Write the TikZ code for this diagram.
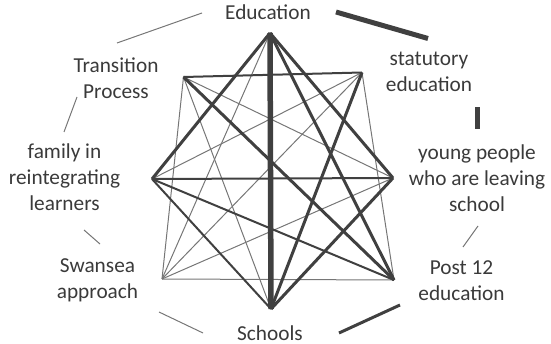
\documentclass[tikz,border=0pt]{standalone}
\usepackage{fontspec}
\setmainfont{Carlito}
\usepackage{tikz}
\usetikzlibrary{positioning}
\definecolor{linkdark}{HTML}{404040}
\definecolor{linklight}{HTML}{767676}
\definecolor{labeltext}{HTML}{3A3A3A}
\tikzset{%
  every edge/.style={
    draw,
    line cap=butt},
  wt1/.style={draw=linklight, line width=1pt},
  wt2/.style={draw=linkdark, line width=2pt},
  wt3/.style={draw=linkdark, line width=3pt},
  wt5/.style={draw=linkdark, line width=5pt},
  topic/.style={
    text=labeltext,
    inner sep=0pt,
    align=center,
    font=\fontsize{21.3}{25.8}\selectfont}
}

\begin{document}
\begin{tikzpicture}[x=1pt, y=-1pt]
    \useasboundingbox (0,0) rectangle (551,344);

    % labels round the circle
    \node[topic, anchor=base] (Ledu) at (268,19.5) {Education};
    \node[topic] (Lstat) at (429,72) {statutory\\education};
    \node[topic] (Lyoung) at (477,178) {young people\\who are leaving\\school};
    \node[topic] (Lpost) at (461.5,281) {Post 12\\education};
    \node[topic, anchor=base] (Lschools) at (270,340) {Schools};
    \node[topic] (Lswansea) at (97.5,280.5) {Swansea\\approach};
    \node[topic] (Lfamily) at (64.5,177) {family in\\reintegrating\\learners};
    \node[topic] (Ltrans) at (116,78) {Transition\\Process};

    % inner points
    \coordinate (edu) at (270,33);
    \coordinate (stat) at (362,72.5);
    \coordinate (young) at (393,178);
    \coordinate (post) at (394,280);
    \coordinate (schools) at (271,309);
    \coordinate (swansea) at (162,279);
    \coordinate (family) at (152,179);
    \coordinate (trans) at (183.5,77);

    % ends of the outer links
    \coordinate (oEa) at (202,13);   \coordinate (oEb) at (117,43);
    \coordinate (oTa) at (77,97);    \coordinate (oTb) at (64,132);
    \coordinate (oFa) at (84,230);   \coordinate (oFb) at (100,244);
    \coordinate (oWa) at (159,312);  \coordinate (oWb) at (203,333);
    \coordinate (oCa) at (339,333);  \coordinate (oCb) at (400,305);
    \coordinate (oPa) at (463,247);  \coordinate (oPb) at (478,226);
    \coordinate (oYa) at (477.5,129); \coordinate (oYb) at (477.5,107);
    \coordinate (oSa) at (428,38.5); \coordinate (oSb) at (336,12);

    \draw
      (edu) edge [wt1] (swansea)
      (trans) edge [wt1] (swansea)
      (trans) edge [wt1] (schools)
      (trans) edge [wt1] (young)
      (stat) edge [wt1] (post)
      (stat) edge [wt1] (family)
      (stat) edge [wt1] (swansea)
      (young) edge [wt1] (swansea)
      (post) edge [wt1] (swansea)
      (young) edge [wt2] (family)
      (post) edge [wt2] (family)
      (schools) edge [wt2] (family)
      (trans) edge [wt2] (stat)
      (trans) edge [wt3] (post)
      (stat) edge [wt3] (schools)
      (young) edge [wt3] (schools)
      (edu) edge [wt3] (family)
      (edu) edge [wt3] (post)
      (edu) edge [wt3] (young)
      (edu) edge [wt5, line width=5.5pt] (schools)
    ;

    \draw
      (oEa) edge [wt1] (oEb)
      (oTa) edge [wt1] (oTb)
      (oFa) edge [wt1] (oFb)
      (oWa) edge [wt1] (oWb)
      (oCa) edge [wt3] (oCb)
      (oPa) edge [wt1] (oPb)
      (oYa) edge [wt5] (oYb)
      (oSa) edge [wt5] (oSb)
    ;

\end{tikzpicture}
\end{document}
